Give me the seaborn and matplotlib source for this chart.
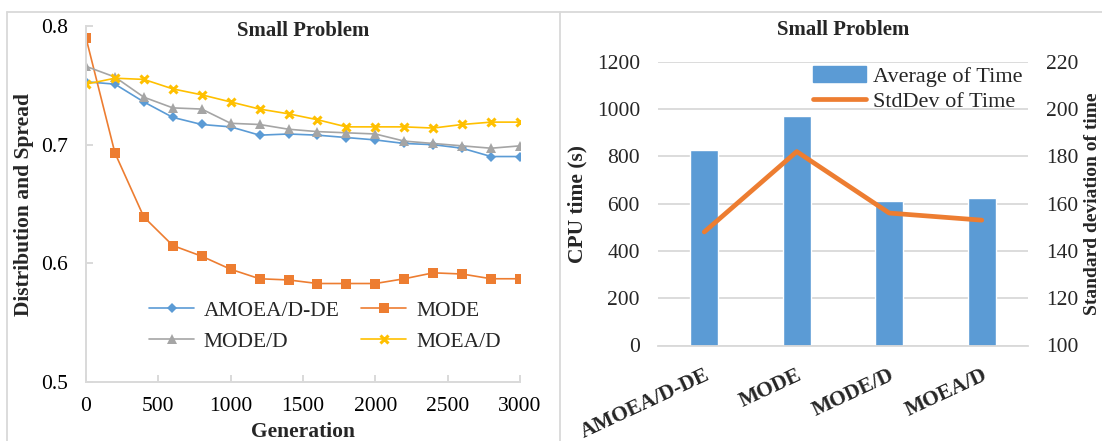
import numpy as np
import pandas as pd
import matplotlib
matplotlib.use("Agg")
import matplotlib.pyplot as plt
from matplotlib.lines import Line2D
from matplotlib.patches import Patch
import seaborn as sns

# ---------------- data ----------------
generations = [0, 200, 400, 600, 800, 1000, 1200, 1400, 1600, 1800, 2000, 2200, 2400, 2600, 2800, 3000]
amoea_dde = [0.753, 0.751, 0.736, 0.723, 0.717, 0.715, 0.708, 0.709, 0.708, 0.706, 0.704, 0.701, 0.700, 0.697, 0.690, 0.690]
mode_vals = [0.790, 0.693, 0.639, 0.615, 0.606, 0.595, 0.587, 0.586, 0.583, 0.583, 0.583, 0.587, 0.592, 0.591, 0.587, 0.587]
mode_d = [0.766, 0.757, 0.740, 0.731, 0.730, 0.718, 0.717, 0.713, 0.711, 0.710, 0.709, 0.703, 0.701, 0.699, 0.697, 0.699]
moea_d = [0.751, 0.756, 0.755, 0.747, 0.742, 0.736, 0.730, 0.726, 0.721, 0.715, 0.715, 0.715, 0.714, 0.717, 0.719, 0.719]
series_names = ["AMOEA/D-DE", "MODE", "MODE/D", "MOEA/D"]

algorithms = ["AMOEA/D-DE", "MODE", "MODE/D", "MOEA/D"]
avg_time = [827, 972, 611, 623]
std_time = [148, 182, 156, 153]

# ---------------- style ----------------
sns.set_theme(style="white")
plt.rcParams["font.family"] = ["Liberation Serif", "DejaVu Serif"]
plt.rcParams["axes.unicode_minus"] = False

W, H = 1102, 441
fig = plt.figure(figsize=(W / 100, H / 100), dpi=100)

def fx(px):
    return px / W

def fy(py):
    return 1 - py / H

GRID = "#D9D9D9"
BLUE = "#5B9BD5"
ORANGE = "#ED7D31"
GRAY = "#A5A5A5"
GOLD = "#FFC000"

TICK_FS = 15.5
LAB_FS = 15.5
TITLE_FS = 15

# chart-area borders
for (x0, y0, x1, y1) in [(7, 12, 1102, 12), (7, 12, 7, 441), (560, 12, 560, 441)]:
    fig.add_artist(Line2D([fx(x0), fx(x1)], [fy(y0), fy(y1)], color=GRID, lw=1.3,
                          transform=fig.transFigure))

# ---------------- left chart ----------------
axL = fig.add_axes([fx(86), fy(382), fx(520) - fx(86), fy(26) - fy(382)])
df = pd.DataFrame({"Generation": generations * 4,
                   "Value": amoea_dde + mode_vals + mode_d + moea_d,
                   "Series": sum([[n] * len(generations) for n in series_names], [])})
styles = {
    "AMOEA/D-DE": dict(color=BLUE, marker="D", markersize=5),
    "MODE": dict(color=ORANGE, marker="s", markersize=6.5),
    "MODE/D": dict(color=GRAY, marker="^", markersize=6.5),
    "MOEA/D": dict(color=GOLD, marker="x", markersize=6, markeredgewidth=2.2),
}
for name in series_names:
    st = styles[name]
    sub = df[df["Series"] == name]
    sns.lineplot(data=sub, x="Generation", y="Value", ax=axL, color=st["color"],
                 marker=st["marker"], markersize=st["markersize"],
                 markeredgewidth=st.get("markeredgewidth", 0),
                 markeredgecolor=st["color"], markerfacecolor=st["color"],
                 linewidth=1.2, label=name, legend=False)

axL.set_xlim(0, 3000)
axL.set_ylim(0.5, 0.8)
axL.set_xticks(np.arange(0, 3001, 500))
axL.set_yticks([0.5, 0.6, 0.7, 0.8])
axL.set_yticklabels(["0.5", "0.6", "0.7", "0.8"])
for s in ["top", "right"]:
    axL.spines[s].set_visible(False)
for s in ["left", "bottom"]:
    axL.spines[s].set_color(GRID)
    axL.spines[s].set_linewidth(1.4)
axL.tick_params(axis="both", direction="in", length=5, width=1.4, color=GRID,
                labelsize=TICK_FS, labelcolor="black")
axL.tick_params(axis="y", pad=13, left=True)
axL.tick_params(axis="x", pad=11, bottom=True)
axL.set_xlabel("Generation", fontsize=LAB_FS, fontweight="bold")
axL.xaxis.set_label_coords(0.5, -0.112)
axL.set_ylabel("Distribution and Spread", fontsize=LAB_FS, fontweight="bold")
axL.yaxis.set_label_coords(-0.12, 0.5)
axL.set_title("Small Problem", fontsize=TITLE_FS, fontweight="bold", pad=0, y=0.972)

order = ["AMOEA/D-DE", "MODE/D", "MODE", "MOEA/D"]
handles = [Line2D([0], [0], color=styles[n]["color"], marker=styles[n]["marker"],
                  markersize=styles[n]["markersize"],
                  markeredgewidth=styles[n].get("markeredgewidth", 0),
                  markeredgecolor=styles[n]["color"], lw=1.2) for n in order]
axL.legend(handles, order, ncol=2, frameon=False, fontsize=15.5,
           loc="center left", bbox_to_anchor=(0.145, 0.157), borderaxespad=0,
           borderpad=0, handlelength=2.1, handletextpad=0.45, columnspacing=1.0,
           labelspacing=0.5)

# ---------------- right chart ----------------
axR = fig.add_axes([fx(658), fy(345.5), fx(1028) - fx(658), fy(61.7) - fy(345.5)])
dfb = pd.DataFrame({"Algorithm": algorithms, "Average of Time": avg_time})
sns.barplot(data=dfb, x="Algorithm", y="Average of Time", ax=axR, color=BLUE,
            saturation=1, width=0.3, zorder=2)
axR.set_ylim(0, 1200)
axR.set_xlim(-0.5, 3.5)
axR.set_yticks(np.arange(0, 1201, 200))
axR.yaxis.grid(True, color=GRID, linewidth=1.3)
axR.set_axisbelow(True)
for s in ["top", "right", "left"]:
    axR.spines[s].set_visible(False)
axR.spines["bottom"].set_color(GRID)
axR.spines["bottom"].set_linewidth(1.3)
axR.tick_params(axis="y", length=0, pad=13, labelsize=TICK_FS)
axR.tick_params(axis="x", length=0, pad=14)
axR.set_xlabel("")
axR.set_ylabel("CPU time (s)", fontsize=LAB_FS, fontweight="bold")
axR.yaxis.set_label_coords(-0.19, 0.5)
for lab in axR.get_xticklabels():
    lab.set_rotation(25)
    lab.set_ha("right")
    lab.set_va("top")
    lab.set_rotation_mode("anchor")
    lab.set_fontweight("bold")
    lab.set_fontsize(TICK_FS)
axR.set_title("Small Problem", fontsize=TITLE_FS, fontweight="bold", pad=0, y=1.095)

ax2 = axR.twinx()
sns.lineplot(x=list(range(len(algorithms))), y=std_time, ax=ax2, color=ORANGE,
             linewidth=3.4, legend=False, solid_capstyle="round", solid_joinstyle="round")
ax2.set_ylim(100, 220)
ax2.set_yticks(np.arange(100, 221, 20))
for s in ["top", "right", "left", "bottom"]:
    ax2.spines[s].set_visible(False)
ax2.tick_params(axis="y", length=0, pad=13, labelsize=TICK_FS)
ax2.set_ylabel("Standard deviation of time", fontsize=14, fontweight="bold")
ax2.yaxis.set_label_coords(1.152, 0.5)

lh = [Patch(facecolor=BLUE, edgecolor=BLUE),
      Line2D([0], [0], color=ORANGE, lw=3.4, solid_capstyle="round")]
ax2.legend(lh, ["Average of Time", "StdDev of Time"], frameon=False, fontsize=16,
           loc="upper right", bbox_to_anchor=(0.985, 0.985), borderaxespad=0,
           borderpad=0, handlelength=2.4, handletextpad=0.3, labelspacing=0.2)

fig.savefig("out.png", dpi=100)
